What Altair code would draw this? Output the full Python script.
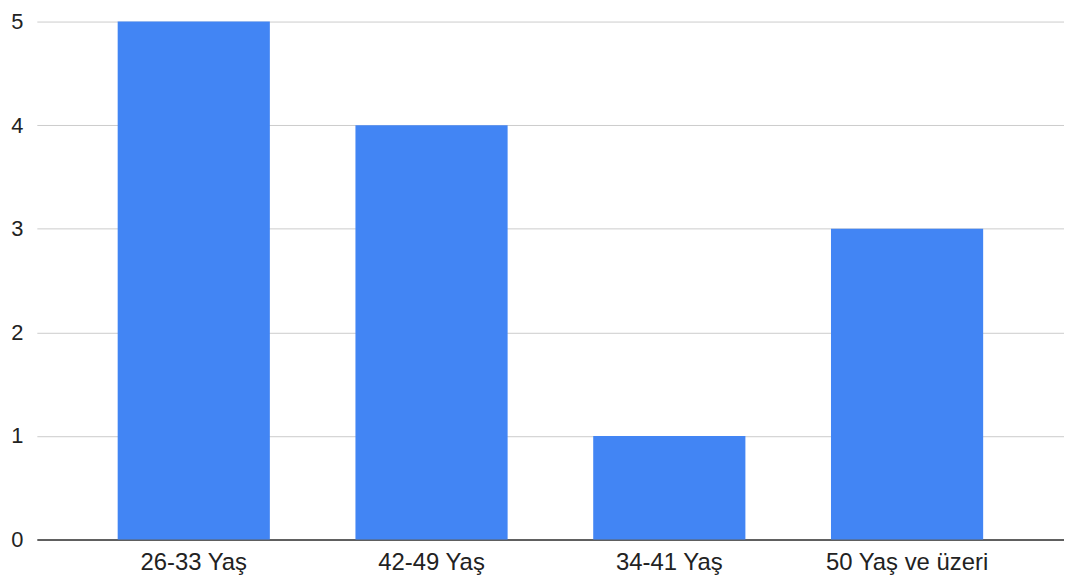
import altair as alt
import pandas as pd

categories = ["26-33 Yaş", "42-49 Yaş", "34-41 Yaş", "50 Yaş ve üzeri"]
values = [5, 4, 1, 3]

df = pd.DataFrame({"cat": categories, "val": values})

chart = alt.Chart(df).mark_bar(color="#4285F4").encode(
    x=alt.X("cat:N", sort=categories, title=None,
            scale=alt.Scale(paddingInner=0.36, paddingOuter=0.34),
            axis=alt.Axis(labelAngle=0, labelFontSize=24, labelFont="Liberation Sans",
                          labelColor="#222222", labelPadding=11, ticks=False,
                          domainColor="#333333", domainWidth=1.5, grid=False)),
    y=alt.Y("val:Q", title=None,
            scale=alt.Scale(domain=[0, 5], nice=False),
            axis=alt.Axis(values=[0, 1, 2, 3, 4, 5], labelFontSize=22,
                          labelFont="Liberation Sans", labelColor="#222222",
                          labelPadding=14, ticks=False, domain=False,
                          gridColor="#cccccc", gridWidth=1)),
).properties(
    width=1033, height=521,
    autosize=alt.AutoSizeParams(type="none"),
    padding={"left": 29, "top": 12, "right": 0, "bottom": 45},
).configure_view(stroke=None)

chart.save("out.html", embed_options={"renderer": "svg", "actions": False})
